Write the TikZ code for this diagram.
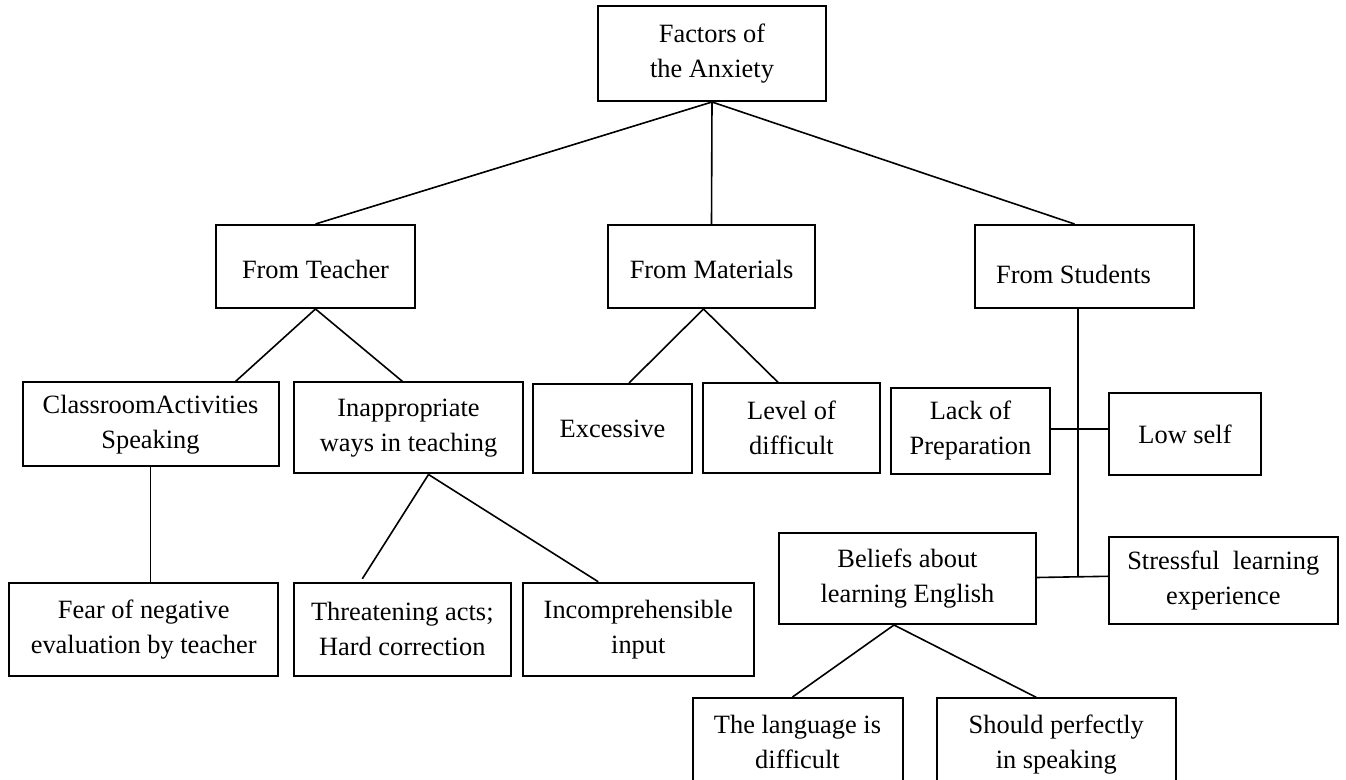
\documentclass[tikz,border=0pt]{standalone}
\usepackage{fontspec}
\setmainfont{Liberation Serif}
\usetikzlibrary{calc}

\tikzset{
    factor/.style={draw, line width=1pt, align=center, inner sep=0pt,
        font=\fontsize{13.2pt}{17.5pt}\selectfont},
    link/.style={line width=0.8pt}
}

\begin{document}
\begin{tikzpicture}[x=0.5pt, y=-0.5pt]
    \useasboundingbox (0,0) rectangle (1346,780);
    \clip (0,0) rectangle (1346,780);
    % root and the three sources
    \node[factor, minimum width=114pt, minimum height=47.5pt] (anx) at (712,53.5) {Factors of\\the Anxiety};
    \node[factor, minimum width=99.5pt, minimum height=41.5pt, text height=12.5pt, text depth=0pt] (teach) at (315.5,266.5) {From Teacher};
    \node[factor, minimum width=103.5pt, minimum height=41.5pt, text height=12.5pt, text depth=0pt] (mat) at (711.5,266.5) {From Materials};
    \node[factor, minimum width=109.5pt, minimum height=41.5pt, text height=16.8pt, text depth=0pt] (stud) at (1084.5,266.5) {From Students\hspace{11pt}};
    % second level
    \node[factor, minimum width=128pt, minimum height=42pt] (class) at (150.5,424.5) {ClassroomActivities\\Speaking};
    \node[factor, minimum width=114.5pt, minimum height=45.5pt] (inap) at (408.5,428) {Inappropriate\\ways in teaching};
    \node[factor, minimum width=79.5pt, minimum height=44.5pt] (exc) at (612.5,428.5) {Excessive};
    \node[factor, minimum width=88.5pt, minimum height=45pt] (lev) at (791.5,428.3) {Level of\\difficult};
    \node[factor, minimum width=79.5pt, minimum height=43pt] (lack) at (970.5,431) {Lack of\\Preparation};
    \node[factor, minimum width=76pt, minimum height=41pt] (low) at (1185,434) {Low self};
    % third level
    \node[factor, minimum width=134.5pt, minimum height=46.5pt] (fear) at (143.7,629.3) {Fear of negative\\evaluation by teacher};
    \node[factor, minimum width=108.5pt, minimum height=46.5pt] (threat) at (402.3,629.3) {Threatening acts;\\Hard correction};
    \node[factor, minimum width=115.5pt, minimum height=46.5pt] (incomp) at (638.3,629.3) {Incomprehensible\\input};
    \node[factor, minimum width=128.5pt, minimum height=45.5pt] (bel) at (907.5,578.5) {Beliefs about\\learning English};
    \node[factor, minimum width=114.5pt, minimum height=43.5pt] (stress) at (1223.3,580.3) {Stressful~ learning\\experience};
    % beliefs, cut off at the bottom
    \node[factor, minimum width=105pt, minimum height=43.5pt] (lang) at (797.5,741.5) {The language is\\difficult};
    \node[factor, minimum width=119.5pt, minimum height=46pt] (should) at (1056.3,744.4) {Should perfectly\\in speaking};

    \draw[link] (anx.south) -- (teach.north);
    \draw[link] (anx.south) -- (mat.north);
    \draw[link] (anx.south) -- ($(stud.north)+(-10,0)$);
    \draw[link] (teach.south) -- ($(class.north)+(85,0)$);
    \draw[link] (teach.south) -- ($(inap.north)+(-6,0)$);
    \draw[link] (class.south) -- (class.south |- fear.north);
    \draw[link] ($(inap.south)+(20,0)$) -- ($(threat.north)+(-40,-3)$);
    \draw[link] ($(inap.south)+(20,0)$) -- ($(incomp.north)+(-40,0)$);
    \draw[link] ($(mat.south)+(-8,0)$) -- ($(exc.north)+(16.5,0)$);
    \draw[link] ($(mat.south)+(-8,0)$) -- ($(lev.north)+(-13.5,0)$);
    % students: one stem with side branches
    \coordinate (stem) at ($(stud.south)+(-6.5,0)$);
    \draw[link] ($(bel.east)+(0,-1)$) -- ($(stress.west)+(0,-4)$);
    \draw[link] (stem) -- ($(stem |- bel.east)+(0,-2)$);
    \draw[link] ($(lack.east)+(0,-2)$) -- ($(low.west)+(0,-5)$);
    \draw[link] ($(bel.south)+(-13.5,0)$) -- ($(lang.north)+(-5,0)$);
    \draw[link] ($(bel.south)+(-13.5,0)$) -- ($(should.north)+(-20,0)$);
\end{tikzpicture}
\end{document}
